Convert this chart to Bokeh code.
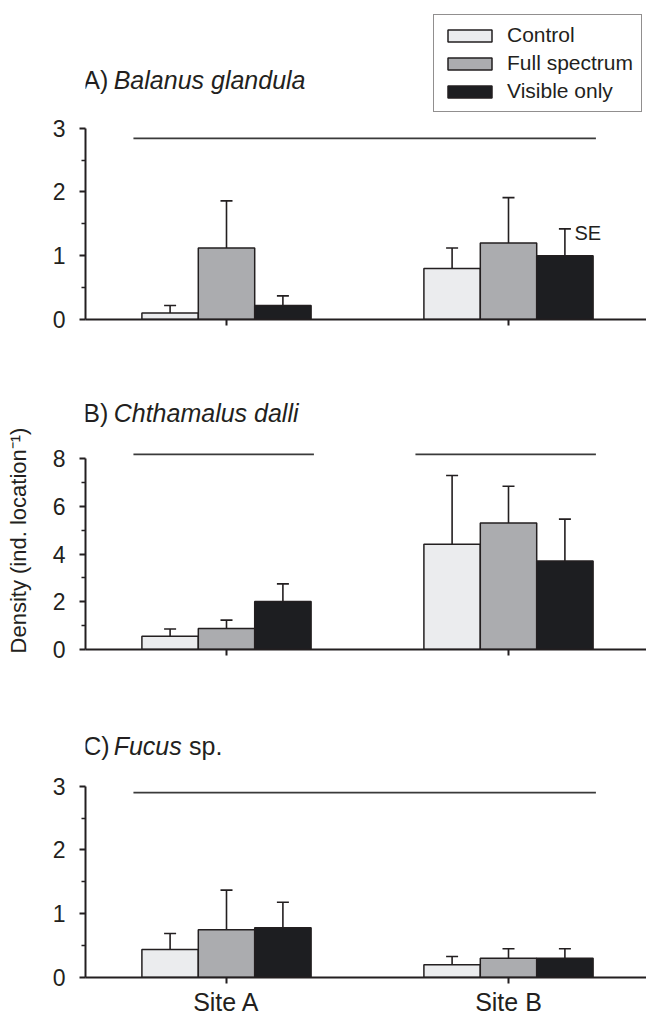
import math
from bokeh.plotting import figure
from bokeh.models import (Range1d, FixedTicker, Whisker, TeeHead, ColumnDataSource,
                          Label, Legend, LegendItem, CustomJSTickFormatter)
from bokeh.core.properties import value
from bokeh.layouts import column, row
from bokeh.embed import file_html
from bokeh.resources import INLINE

# ---------------- data ----------------
sites = ["Site A", "Site B"]
treatments = ["Control", "Full spectrum", "Visible only"]
y_label = "Density (ind. location\u207b\u00b9)"

# A) Balanus glandula  (mean, upper SE)
bal_control = [0.10, 0.80]
bal_control_se = [0.12, 0.32]
bal_full = [1.12, 1.20]
bal_full_se = [0.74, 0.71]
bal_visible = [0.22, 1.00]
bal_visible_se = [0.15, 0.42]
bal_sig_level = 2.84
bal_sig_groups = [(0, 1)]

# B) Chthamalus dalli
cht_control = [0.56, 4.41]
cht_control_se = [0.30, 2.88]
cht_full = [0.88, 5.30]
cht_full_se = [0.35, 1.54]
cht_visible = [2.01, 3.71]
cht_visible_se = [0.74, 1.75]
cht_sig_level = 8.17
cht_sig_groups = [(0, 0), (1, 1)]

# C) Fucus sp.
fuc_control = [0.44, 0.20]
fuc_control_se = [0.25, 0.13]
fuc_full = [0.75, 0.30]
fuc_full_se = [0.62, 0.15]
fuc_visible = [0.78, 0.30]
fuc_visible_se = [0.40, 0.15]
fuc_sig_level = 2.90
fuc_sig_groups = [(0, 1)]

ticks_3 = [0, 1, 2, 3]
minor_3 = [0.5, 1.5, 2.5]
ticks_8 = [0, 2, 4, 6, 8]
minor_8 = [1, 3, 5, 7]

# ---------------- style ----------------
FONT = "Liberation Sans"
INK = "#231f20"
FILLS = ["#ebecee", "#abacaf", "#1d1e21"]
BAR_W = 0.2
UNIT = 282.0
FRAME_W = 561
LAB_W = 40
LEFT = 45

centers = [i + 0.5 for i in range(len(sites))]
offsets = [-BAR_W, 0.0, BAR_W]


def make_panel(series, ses, y_end, frame_h, top_b, bottom_b, bounds, major, minor,
               sig_level, sig_groups, xlabels=False):
    p = figure(frame_width=FRAME_W, frame_height=frame_h,
               x_range=Range1d(0, FRAME_W / UNIT), y_range=Range1d(0, y_end),
               output_backend="svg", toolbar_location=None,
               min_border_left=LEFT, min_border_right=0,
               min_border_top=top_b, min_border_bottom=bottom_b)
    p.outline_line_color = None
    p.grid.visible = False

    rends = []
    for k, (m, s) in enumerate(zip(series, ses)):
        xs = [c + offsets[k] for c in centers]
        src = ColumnDataSource(dict(x=xs, top=m, lower=m,
                                    upper=[a + b for a, b in zip(m, s)]))
        w = Whisker(source=src, base="x", lower="lower", upper="upper",
                    dimension="height", line_color=INK, line_width=1.6,
                    upper_head=TeeHead(size=12, line_color=INK, line_width=1.6),
                    lower_head=None)
        p.add_layout(w)
        r = p.vbar(x="x", top="top", bottom=0, width=BAR_W, source=src,
                   fill_color=FILLS[k], line_color=INK, line_width=1.5)
        rends.append(r)

    x0s, x1s = [], []
    for g0, g1 in sig_groups:
        x0s.append(centers[g0] - 0.33)
        x1s.append(centers[g1] + 0.31)
    p.segment(x0=x0s, y0=[sig_level] * len(x0s), x1=x1s, y1=[sig_level] * len(x0s),
              line_color="#3a3a3a", line_width=1.8)

    xa = p.xaxis[0]
    xa.ticker = FixedTicker(ticks=centers, minor_ticks=[])
    if xlabels:
        xa.formatter = CustomJSTickFormatter(args=dict(names=sites),
                                             code="return names[index]")
        xa.major_label_text_font = FONT
        xa.major_label_text_font_size = "25px"
        xa.major_label_text_color = INK
        xa.major_label_standoff = 4
    else:
        xa.formatter = CustomJSTickFormatter(code="return ''")
        xa.major_label_text_font_size = "0px"
        xa.major_label_standoff = 0
    xa.axis_line_color = INK
    xa.axis_line_width = 2
    xa.major_tick_line_color = INK
    xa.major_tick_line_width = 2
    xa.major_tick_out = 6
    xa.major_tick_in = 0
    xa.minor_tick_line_color = None

    ya = p.yaxis[0]
    ya.ticker = FixedTicker(ticks=major, minor_ticks=minor)
    ya.bounds = bounds
    ya.axis_line_color = INK
    ya.axis_line_width = 2
    ya.major_tick_line_color = INK
    ya.major_tick_line_width = 2
    ya.major_tick_out = 6
    ya.major_tick_in = 0
    ya.minor_tick_line_color = INK
    ya.minor_tick_line_width = 1.5
    ya.minor_tick_out = 4
    ya.minor_tick_in = 0
    ya.major_label_standoff = 14
    ya.major_label_text_font = FONT
    ya.major_label_text_font_size = "23px"
    ya.major_label_text_color = INK
    return p, rends


def add_title(p, prefix, italic, suffix, y, x_suffix=None):
    p.add_layout(Label(x=-0.008, y=y, text=prefix, text_font=FONT, text_font_size="25px",
                       text_color=INK, text_baseline="alphabetic"))
    p.add_layout(Label(x=0.100, y=y, text=italic, text_font=FONT, text_font_size="25px",
                       text_font_style="italic", text_color=INK, text_baseline="alphabetic"))
    if suffix:
        p.add_layout(Label(x=x_suffix, y=y, text=suffix, text_font=FONT, text_font_size="25px",
                           text_color=INK, text_baseline="alphabetic"))


# Panel A
pA, rA = make_panel([bal_control, bal_full, bal_visible],
                    [bal_control_se, bal_full_se, bal_visible_se],
                    y_end=309 / 63.8, frame_h=309, top_b=10, bottom_b=26,
                    bounds=(0, 3), major=ticks_3, minor=minor_3,
                    sig_level=bal_sig_level, sig_groups=bal_sig_groups)
add_title(pA, "A)", "Balanus glandula", None, 3.757)
se_x = centers[1] + offsets[2] + 0.034
se_y = bal_visible[1] + bal_visible_se[1] - 0.07
pA.add_layout(Label(x=se_x, y=se_y, text="SE", text_font=FONT, text_font_size="20px",
                    text_color=INK, text_baseline="alphabetic"))
legend = Legend(items=[LegendItem(label=t, renderers=[r]) for t, r in zip(treatments, rA)],
                location=(348, 207), margin=0, padding=8, spacing=4,
                glyph_width=55, glyph_height=15, label_standoff=10,
                label_text_font=FONT, label_text_font_size="21px", label_text_color=INK,
                border_line_color=INK, border_line_width=1.5,
                background_fill_color="white", background_fill_alpha=1.0)
pA.add_layout(legend)

# Panel B
pB, rB = make_panel([cht_control, cht_full, cht_visible],
                    [cht_control_se, cht_full_se, cht_visible_se],
                    y_end=304 / 23.875, frame_h=304, top_b=0, bottom_b=26,
                    bounds=(0, 8), major=ticks_8, minor=minor_8,
                    sig_level=cht_sig_level, sig_groups=cht_sig_groups)
add_title(pB, "B)", "Chthamalus dalli", None, 9.91)

# Panel C
pC, rC = make_panel([fuc_control, fuc_full, fuc_visible],
                    [fuc_control_se, fuc_full_se, fuc_visible_se],
                    y_end=302 / 63.77, frame_h=302, top_b=0, bottom_b=41,
                    bounds=(0, 3), major=ticks_3, minor=minor_3,
                    sig_level=fuc_sig_level, sig_groups=fuc_sig_groups, xlabels=True)
add_title(pC, "C)", "Fucus", "sp.", 3.638, x_suffix=0.367)

# shared y-axis title in its own narrow strip
TOTAL_H = 1018
ylab = figure(width=LAB_W, height=TOTAL_H, x_range=Range1d(0, LAB_W),
              y_range=Range1d(0, TOTAL_H), output_backend="svg", toolbar_location=None,
              min_border=0, x_axis_location=None, y_axis_location=None)
ylab.outline_line_color = None
ylab.grid.visible = False
ylab.xgrid.visible = False
ylab.ygrid.visible = False
ylab.text(x=[18], y=[TOTAL_H - 540], text=[y_label], angle=math.pi / 2,
          text_align="center", text_baseline="middle", text_font=value(FONT),
          text_font_size=value("22px"), text_color=INK)

layout = row(ylab, column(pA, pB, pC, spacing=0), spacing=0)
open("out.html", "w").write(file_html(layout, INLINE))
